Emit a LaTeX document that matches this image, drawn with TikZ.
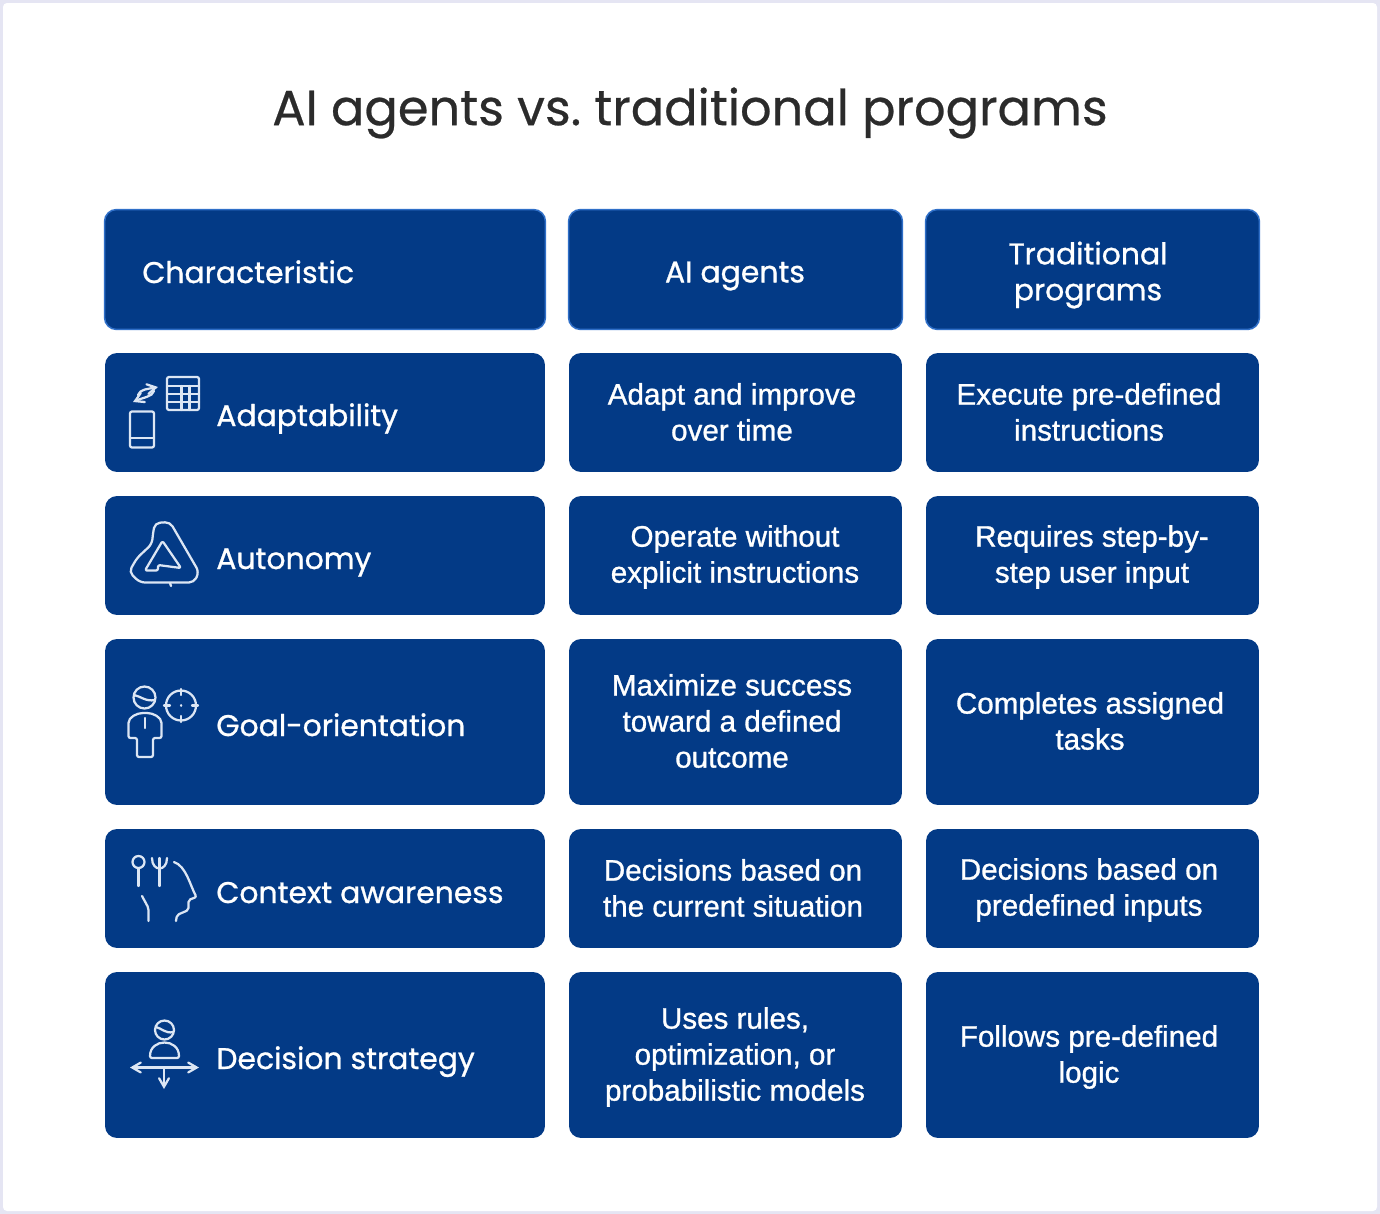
\documentclass[tikz,border=0pt]{standalone}
\usepackage{fontspec}
\usepackage{tikz}
\usetikzlibrary{arrows}
\setmainfont{Liberation Sans}
\newfontfamily\titlefont[FakeBold=0.5]{Poppins}
\newfontfamily\rowfont[FakeBold=0.9]{Poppins}
\newfontfamily\cellfont[FakeBold=1]{Liberation Sans}
\definecolor{navyfill}{HTML}{033A86}
\definecolor{headedge}{HTML}{2F6FC8}
\definecolor{pageedge}{HTML}{E5E5F3}
\definecolor{titlegray}{HTML}{2B2B2B}
\definecolor{iconline}{HTML}{DCE6F4}
\tikzset{
	cellbox/.style={fill=navyfill,rounded corners=0.24cm,inner sep=0pt,outer sep=0pt},
	headbox/.style={cellbox,draw=headedge,line width=0.03cm},
	celltext/.style={text=white,align=center,inner sep=0pt,font=\cellfont\fontsize{16.85}{20.5}\selectfont},
	headtext/.style={text=white,align=center,inner sep=0pt,font=\rowfont\fontsize{17}{20.5}\selectfont},
	rowtext/.style={text=white,anchor=base west,inner sep=0pt,font=\rowfont\fontsize{17}{20.5}\selectfont},
	iconpath/.style={draw=iconline,line width=0.045cm,rounded corners=0.04cm}
}
\begin{document}
\frenchspacing
\begin{tikzpicture}[line cap=round,line join=round,>=angle 60,x=0.02cm,y=-0.02cm]
	\useasboundingbox (0,0) rectangle (1380,1214);
	\fill[pageedge] (0,0) rectangle (1380,1214);
	\fill[white,rounded corners=0.08cm] (3,3) rectangle (1377,1211);
	\node[text=titlegray,inner sep=0pt,font=\titlefont\fontsize{28.15}{32}\selectfont] (title) at (690,113) {AI agents vs. traditional programs};

	\node[headbox,minimum width=8.82cm,minimum height=2.4cm] (headA) at (325,269.5) {};
	\node[headbox,minimum width=6.68cm,minimum height=2.4cm] (headB) at (735.5,269.5) {};
	\node[headbox,minimum width=6.68cm,minimum height=2.4cm] (headC) at (1092.5,269.5) {};
	\node[rowtext] (charLabel) at (142,283) {Characteristic};
	\node[headtext] (aiLabel) at (735,276) {AI agents};
	\node[headtext] (tradLabel) at (1088,275) {Traditional\\programs};

	\node[cellbox,minimum width=8.8cm,minimum height=2.38cm] (adaptA) at (325,412.5) {};
	\node[cellbox,minimum width=6.66cm,minimum height=2.38cm] (adaptB) at (735.5,412.5) {};
	\node[cellbox,minimum width=6.66cm,minimum height=2.38cm] (adaptC) at (1092.5,412.5) {};
	\node[rowtext] (adaptLabel) at (216,426) {Adaptability};
	\node[celltext] (adaptAi) at (732,412) {Adapt and improve\\over time};
	\node[celltext] (adaptTrad) at (1089,412) {Execute pre-defined\\instructions};

	\node[cellbox,minimum width=8.8cm,minimum height=2.38cm] (autoA) at (325,555.5) {};
	\node[cellbox,minimum width=6.66cm,minimum height=2.38cm] (autoB) at (735.5,555.5) {};
	\node[cellbox,minimum width=6.66cm,minimum height=2.38cm] (autoC) at (1092.5,555.5) {};
	\node[rowtext] (autoLabel) at (216,569) {Autonomy};
	\node[celltext] (autoAi) at (735,557) {Operate without\\explicit instructions};
	\node[celltext] (autoTrad) at (1092,557) {Requires step-by-\\step user input};

	\node[cellbox,minimum width=8.8cm,minimum height=3.32cm] (goalA) at (325,722) {};
	\node[cellbox,minimum width=6.66cm,minimum height=3.32cm] (goalB) at (735.5,722) {};
	\node[cellbox,minimum width=6.66cm,minimum height=3.32cm] (goalC) at (1092.5,722) {};
	\node[rowtext] (goalLabel) at (216,736) {Goal-orientation};
	\node[celltext] (goalAi) at (732,721) {Maximize success\\toward a defined\\outcome};
	\node[celltext] (goalTrad) at (1090,721) {Completes assigned\\tasks};

	\node[cellbox,minimum width=8.8cm,minimum height=2.38cm] (contextA) at (325,888.5) {};
	\node[cellbox,minimum width=6.66cm,minimum height=2.38cm] (contextB) at (735.5,888.5) {};
	\node[cellbox,minimum width=6.66cm,minimum height=2.38cm] (contextC) at (1092.5,888.5) {};
	\node[rowtext] (contextLabel) at (216,903) {Context awareness};
	\node[celltext] (contextAi) at (733,888) {Decisions based on\\the current situation};
	\node[celltext] (contextTrad) at (1089,890) {Decisions based on\\predefined inputs};

	\node[cellbox,minimum width=8.8cm,minimum height=3.32cm] (stratA) at (325,1055) {};
	\node[cellbox,minimum width=6.66cm,minimum height=3.32cm] (stratB) at (735.5,1055) {};
	\node[cellbox,minimum width=6.66cm,minimum height=3.32cm] (stratC) at (1092.5,1055) {};
	\node[rowtext] (stratLabel) at (216,1069) {Decision strategy};
	\node[celltext] (stratAi) at (735,1057) {Uses rules,\\optimization, or\\probabilistic models};
	\node[celltext] (stratTrad) at (1089,1057) {Follows pre-defined\\logic};

	\draw[iconpath] (167,377) rectangle (199,410);
	\draw[iconpath] (167,386) -- (199,386);
	\draw[iconpath] (167,394) -- (199,394);
	\draw[iconpath] (167,402) -- (199,402);
	\draw[iconpath] (181.5,386) -- (181.5,410);
	\draw[iconpath] (189.5,386) -- (189.5,410);
	\draw[iconpath] (130,411.5) rectangle (154,447.5);
	\draw[iconpath] (130,438) -- (154,438);
	\draw[iconpath,->] (138,395) .. controls (140,389) and (148,389) .. (158,387);
	\draw[iconpath,->] (154,391) .. controls (152,397) and (144,397) .. (133,402);

	\draw[iconpath,rounded corners=0.1cm] (153,533) -- (155,523) -- (170,522) -- (199,572) -- (194,582.5) -- (140,582.5) -- (129,572) -- (137,558) -- (152,544) -- cycle;
	\draw[iconpath] (158,565) -- (158,570.5) -- (145,570.5) -- (162.5,541) -- (181,568) -- cycle;
	\draw[iconpath] (170,583) -- (171,586);

	\draw[iconpath] (144.5,697.5) circle (11);
	\draw[iconpath] (134,695) .. controls (140,696) and (146,702) .. (155,700);
	\draw[iconpath] (181,705.5) circle (15);
	\draw[iconpath] (181,689) -- (181,695);
	\draw[iconpath] (181,716) -- (181,722);
	\draw[iconpath] (164,705.5) -- (170,705.5);
	\draw[iconpath] (192,705.5) -- (198,705.5);
	\draw[iconpath] (181,705.5) -- (181.2,705.5);
	\draw[iconpath] (128.5,738) -- (128.5,725) .. controls (128.5,717) and (137,713) .. (145,713) .. controls (153,713) and (161.5,717) .. (161.5,725) -- (161.5,738) -- (153,738) -- (153,757) -- (137,757) -- (137,738) -- cycle;
	\draw[iconpath] (145,718) -- (145,728);

	\draw[iconpath] (138.5,862) circle (6);
	\draw[iconpath] (138.5,868) -- (138.5,886);
	\draw[iconpath] (152,858) .. controls (152,872) and (167,872) .. (167,858);
	\draw[iconpath] (159.5,858) -- (159.5,886);
	\draw[iconpath] (142,896) -- (148.5,908) -- (148.5,921);
	\draw[iconpath] (174,862) .. controls (186,866) and (190,885) .. (196.5,897) -- (188.5,900) -- (188.5,910) -- (177,915) -- (176,921);

	\draw[iconpath] (164.5,1030) circle (9.5);
	\draw[iconpath] (156,1027) .. controls (161,1028) and (166,1034) .. (173,1032);
	\draw[iconpath] (150,1058) .. controls (150,1038) and (179,1038) .. (179,1058) -- cycle;
	\draw[iconpath,<->] (130,1067.5) -- (199,1067.5);
	\draw[iconpath,->] (164,1067.5) -- (164,1089);
\end{tikzpicture}
\end{document}
